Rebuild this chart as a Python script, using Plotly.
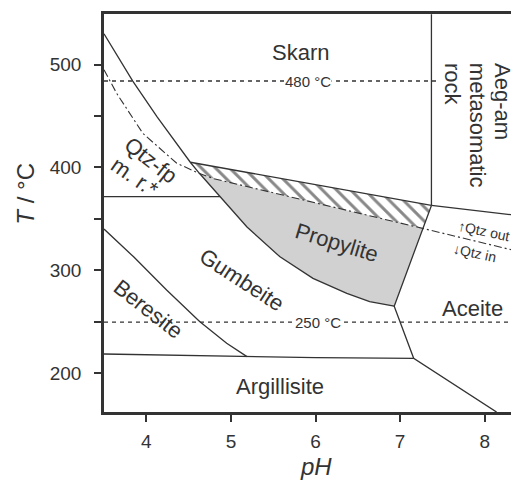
import plotly.graph_objects as go

# ---------------- data (pH, T in °C) ----------------
# Skarn / propylite boundary curve (upper-left to propylite bottom corner)
curve_ph = [3.5, 3.65, 3.84, 4.13, 4.35, 4.52, 4.63, 4.87, 5.19, 5.58, 5.97, 6.37, 6.64, 6.93]
curve_T = [530, 510, 484, 449, 424, 405, 394, 371.5, 342, 313, 292, 277.5, 269.5, 265]

# upper edge of the hatched band
hatch_top_ph = [4.52, 7.37]
hatch_top_T = [405, 363]

# Qtz out / Qtz in dash-dot line
qtz_ph = [3.5, 3.65, 3.96, 4.36, 4.63, 4.8, 7.265, 8.41]
qtz_T = [495, 472, 433, 404, 394, 389, 340.7, 318]

# propylite right boundary and continuation down to the axis
right_ph = [7.37, 6.93, 7.16, 8.14]
right_T = [363, 265, 214.3, 162]

# skarn / metasomatic rock vertical boundary
vert_ph = [7.37, 7.37]
vert_T = [549, 363]

# aceite upper boundary
aceite_ph = [7.37, 8.41]
aceite_T = [363, 353]

# horizontal line below Qtz-fp field
horiz_ph = [3.5, 4.87]
horiz_T = [371.5, 371.5]

# beresite / gumbeite boundary
beres_ph = [3.5, 3.85, 4.24, 4.63, 4.95, 5.19]
beres_T = [340, 313, 280.7, 250, 228.9, 215.9]

# argillisite upper boundary
argil_ph = [3.5, 5.19, 6.0, 6.8, 7.16]
argil_T = [218.5, 215.9, 215.0, 214.5, 214.3]

# isotherms
iso_T = [484, 249.5]
iso_labels = ["480 °C", "250 °C"]
iso_label_ph = [5.91, 6.03]

# field labels: text, pH, T, angle
labels = ["Skarn", "Propylite", "Gumbeite", "Beresite", "Aceite", "Argillisite",
          "Qtz-fp", "m. r.*"]
label_ph = [5.82, 6.25, 5.12, 4.03, 7.85, 5.58, 4.06, 3.87]
label_T = [512, 327, 290.5, 262, 263, 186.5, 407, 390.5]
label_angle = [0, 17, 33, 38, 0, 0, 38, 35]

# vertical label columns (metasomatic rock)
col_text = ["Aeg-am", "metasomatic", "rock"]
col_ph = [8.21, 7.917, 7.62]
col_top_T = [502.5, 502.5, 502.5]

x_ticks = [4, 5, 6, 7, 8]
y_ticks = [200, 300, 400, 500]

LC = "#333333"
FONT = "Liberation Sans"

fig = go.Figure()

# ---- hatched band polygon (built from the curves) ----
i_c0 = curve_ph.index(4.52)
hx = [hatch_top_ph[0], hatch_top_ph[1], qtz_ph[6], qtz_ph[5], qtz_ph[4], curve_ph[i_c0]]
hy = [hatch_top_T[0], hatch_top_T[1], qtz_T[6], qtz_T[5], qtz_T[4], curve_T[i_c0]]
fig.add_trace(go.Scatter(x=hx, y=hy, mode="lines", fill="toself",
                         line=dict(width=0), fillcolor="white",
                         fillpattern=dict(shape="\\", fgcolor="#111111", bgcolor="white",
                                          size=10, solidity=0.3),
                         hoverinfo="skip", showlegend=False))

# ---- propylite grey polygon ----
i_c1 = curve_ph.index(4.63)
gx = [qtz_ph[4], qtz_ph[5], qtz_ph[6], right_ph[1]] + curve_ph[::-1][1:len(curve_ph) - i_c1]
gy = [qtz_T[4], qtz_T[5], qtz_T[6], right_T[1]] + curve_T[::-1][1:len(curve_T) - i_c1]
fig.add_trace(go.Scatter(x=gx, y=gy, mode="lines", fill="toself",
                         line=dict(width=0), fillcolor="#d1d1d1",
                         hoverinfo="skip", showlegend=False))

# ---- solid boundaries ----
for xs, ys in [(curve_ph, curve_T), (hatch_top_ph, hatch_top_T), (right_ph, right_T),
               (vert_ph, vert_T), (aceite_ph, aceite_T), (horiz_ph, horiz_T),
               (beres_ph, beres_T), (argil_ph, argil_T)]:
    fig.add_trace(go.Scatter(x=xs, y=ys, mode="lines", line=dict(color=LC, width=1.3),
                             hoverinfo="skip", showlegend=False))

# ---- dash-dot quartz line ----
fig.add_trace(go.Scatter(x=qtz_ph, y=qtz_T, mode="lines",
                         line=dict(color=LC, width=1.1, dash="8px,3px,2px,3px"),
                         hoverinfo="skip", showlegend=False))

# ---- isotherms ----
for t in iso_T:
    fig.add_trace(go.Scatter(x=[3.5, 8.41], y=[t, t], mode="lines",
                             line=dict(color=LC, width=1.4, dash="4px,4px"),
                             hoverinfo="skip", showlegend=False))

ann = []
for txt, px, t in zip(iso_labels, iso_label_ph, iso_T):
    ann.append(dict(x=px, y=t, text=txt, showarrow=False, bgcolor="white",
                    font=dict(family=FONT, size=15, color=LC), borderpad=0))

for txt, px, t, a in zip(labels, label_ph, label_T, label_angle):
    ann.append(dict(x=px, y=t, text=txt, showarrow=False, textangle=a,
                    font=dict(family=FONT, size=22, color=LC)))

for txt, px, t in zip(col_text, col_ph, col_top_T):
    ann.append(dict(x=px, y=t, text=txt, showarrow=False, textangle=90,
                    xanchor="center", yanchor="top", bgcolor="white", borderpad=0,
                    font=dict(family=FONT, size=22, color=LC)))

ann.append(dict(x=7.99, y=338.6, text="↑Qtz out", showarrow=False, textangle=12,
                font=dict(family=FONT, size=14, color=LC)))
ann.append(dict(x=7.885, y=317, text="↓Qtz in", showarrow=False, textangle=12,
                font=dict(family=FONT, size=14, color=LC)))

# axis titles
ann.append(dict(x=-0.19, y=0.549, xref="paper", yref="paper", text="<i>T</i> / °C",
                xanchor="center", yanchor="middle",
                showarrow=False, textangle=-90, font=dict(family=FONT, size=24, color=LC)))
ann.append(dict(x=0.511, y=-0.138, xref="paper", yref="paper", text="<i>pH</i>",
                xanchor="center", yanchor="middle",
                showarrow=False, font=dict(family=FONT, size=24, color=LC)))

# page body has an 8 px margin: figure is 8 px smaller and margins shifted
fig.update_layout(
    width=511, height=473,
    margin=dict(l=96, r=0, t=6, b=69),
    plot_bgcolor="white", paper_bgcolor="white",
    annotations=ann,
    xaxis=dict(range=[3.5, 8.405], tickvals=x_ticks, ticks="outside", ticklen=7,
               tickwidth=2, tickcolor=LC, showline=True, linecolor=LC, linewidth=2.5,
               mirror=True, showgrid=False, zeroline=False,
               tickfont=dict(family=FONT, size=19, color=LC), ticklabelstandoff=3),
    yaxis=dict(range=[162.06, 549.2], tickvals=y_ticks, ticks="outside", ticklen=7,
               tickwidth=2, tickcolor=LC, showline=True, linecolor=LC, linewidth=2.5,
               mirror=False, showgrid=False, zeroline=False,
               minor=dict(ticks="outside", ticklen=7, tickwidth=2, tickcolor=LC, dtick=50,
                          tick0=200, showgrid=False),
               tickfont=dict(family=FONT, size=19, color=LC), ticklabelstandoff=9),
)

fig.write_html("out.html")
